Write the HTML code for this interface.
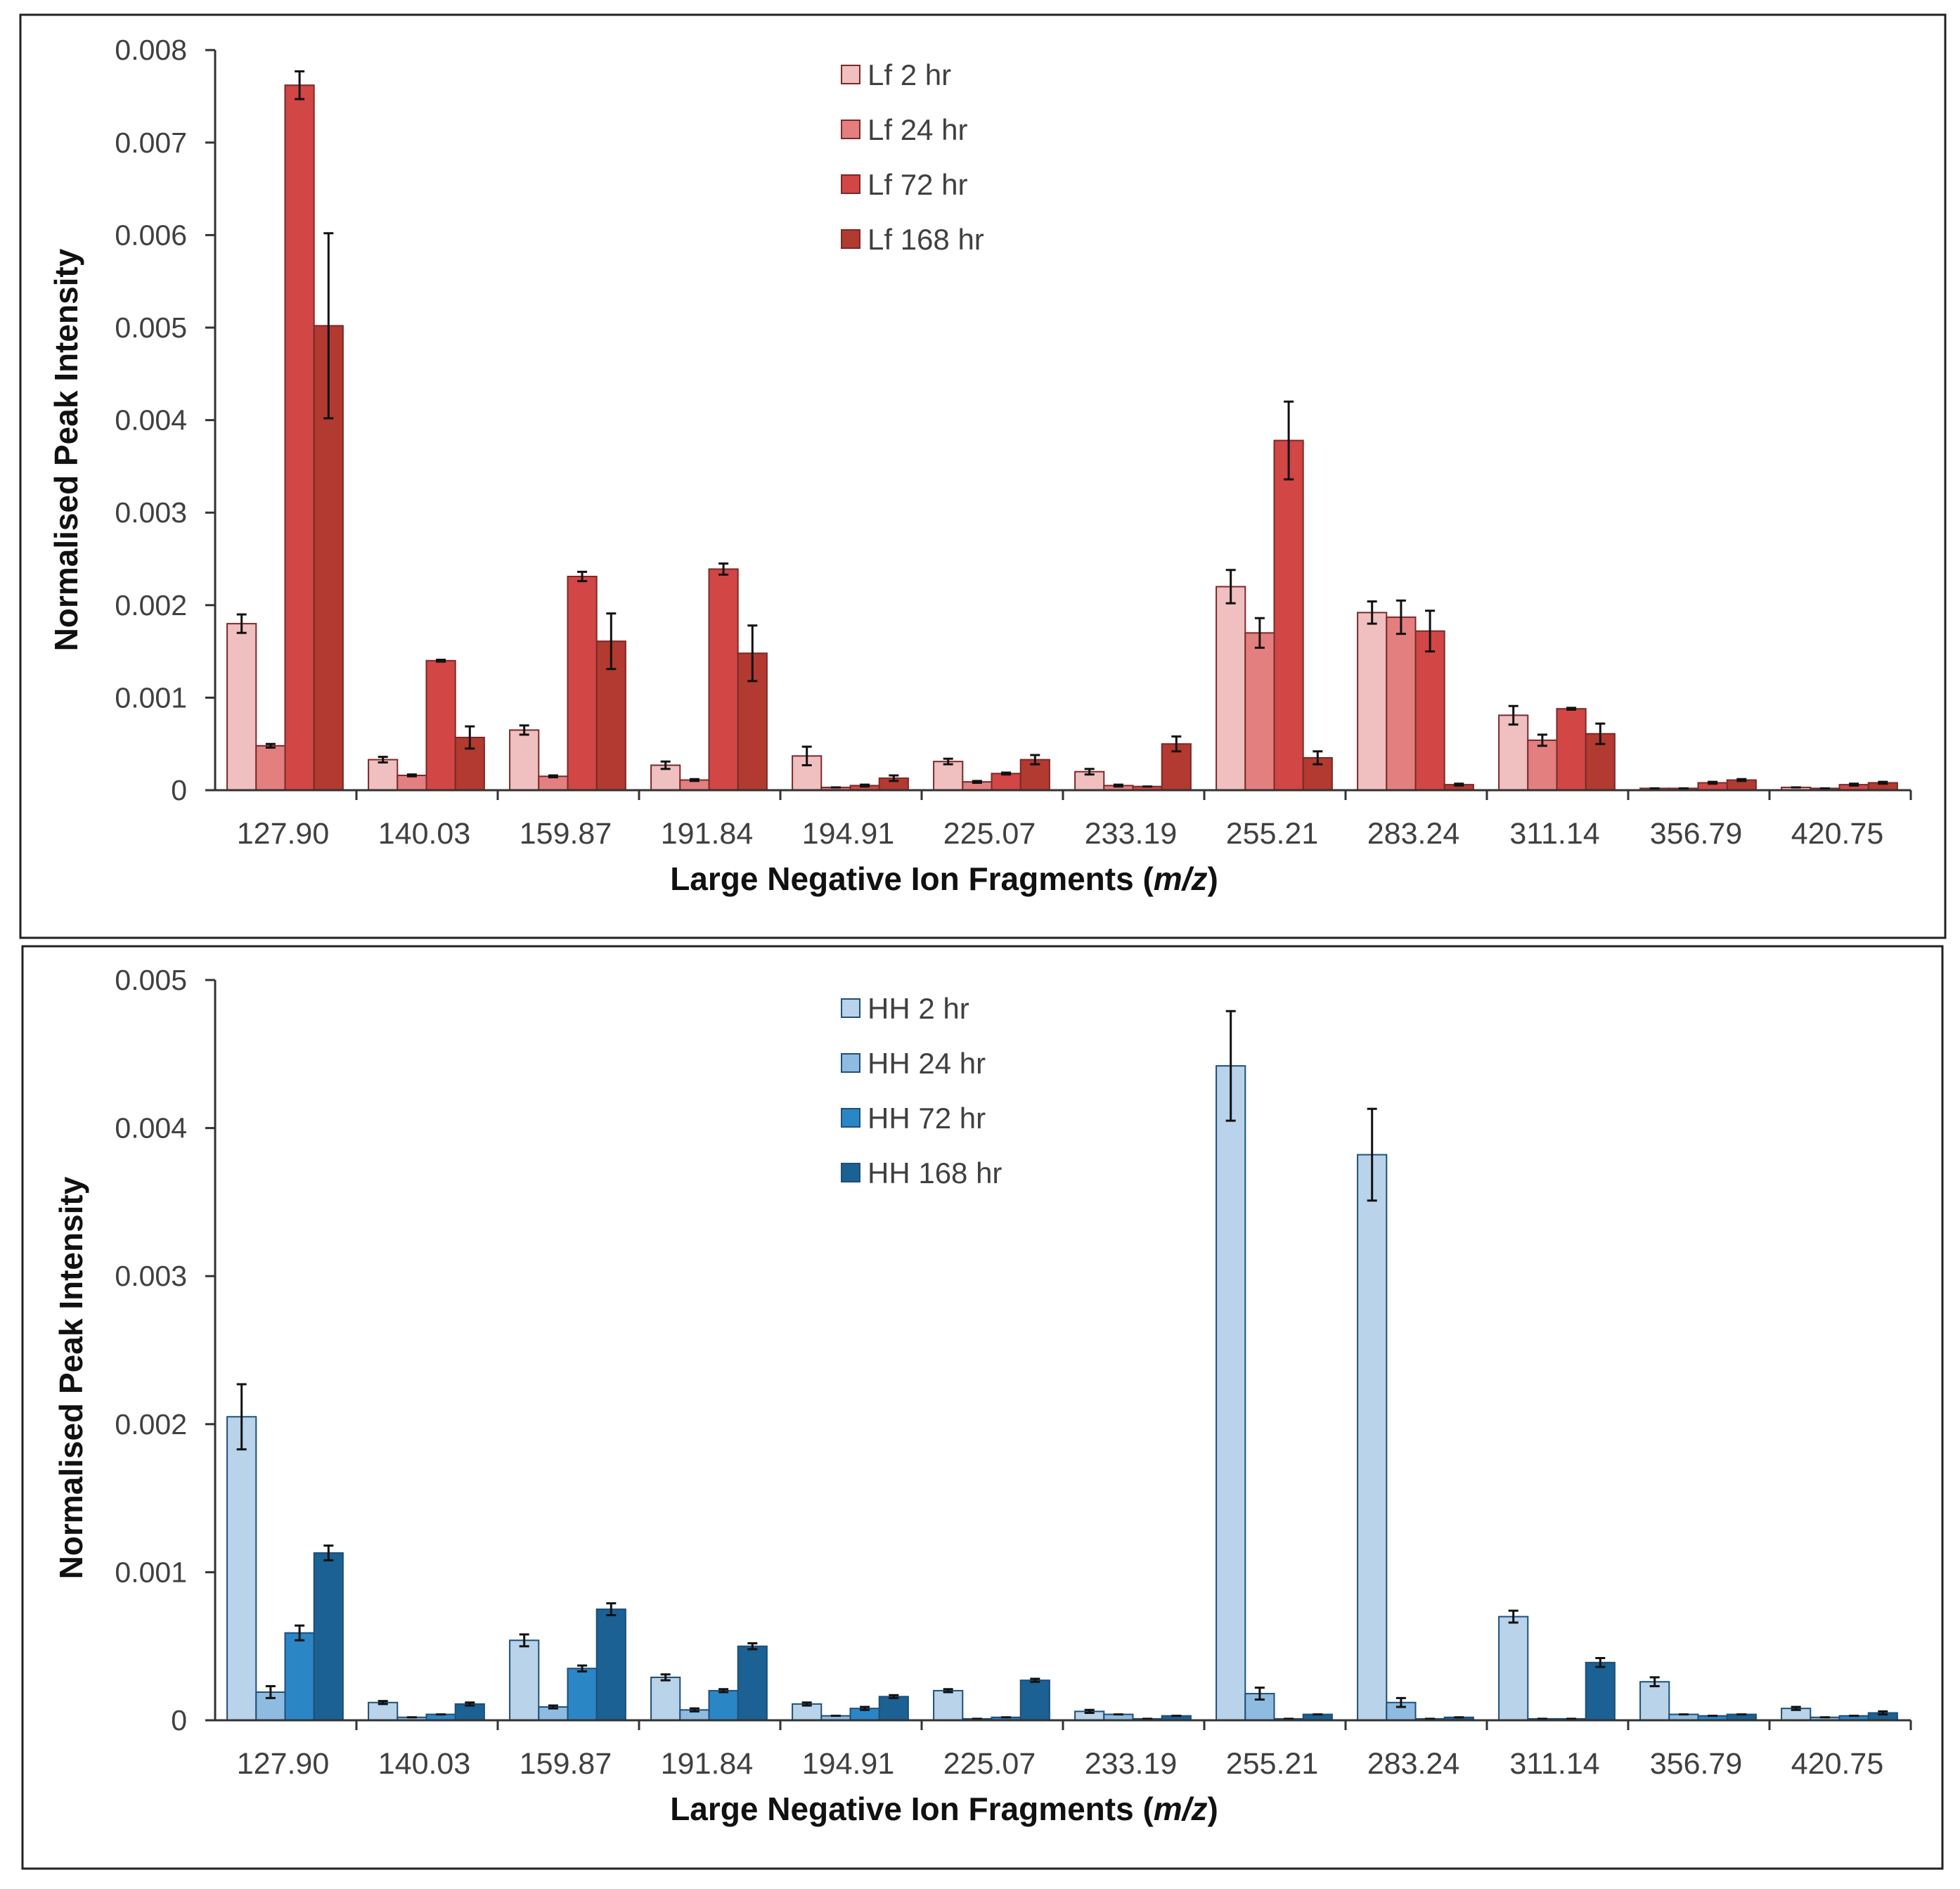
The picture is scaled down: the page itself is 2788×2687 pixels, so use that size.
<!DOCTYPE html>
<html><head><meta charset="utf-8"><style>
html,body{margin:0;padding:0;background:#fff;}
svg{display:block;font-family:"Liberation Sans",sans-serif;}
</style></head><body>
<svg id="root" width="2788" height="2687" viewBox="0 0 2788 2687" xmlns="http://www.w3.org/2000/svg"></svg>
<script>
const categories=["127.90","140.03","159.87","191.84","194.91","225.07","233.19","255.21","283.24","311.14","356.79","420.75"];
const lfNames=["Lf 2 hr","Lf 24 hr","Lf 72 hr","Lf 168 hr"];
const hhNames=["HH 2 hr","HH 24 hr","HH 72 hr","HH 168 hr"];
const lf2=[1.8,0.33,0.65,0.27,0.37,0.31,0.20,2.20,1.92,0.81,0.02,0.03];
const lf24=[0.48,0.16,0.15,0.11,0.03,0.09,0.05,1.70,1.87,0.54,0.02,0.02];
const lf72=[7.62,1.40,2.31,2.39,0.05,0.18,0.04,3.78,1.72,0.88,0.08,0.06];
const lf168=[5.02,0.57,1.61,1.48,0.13,0.33,0.50,0.35,0.06,0.61,0.11,0.08];
const lf2e=[0.1,0.03,0.05,0.04,0.1,0.03,0.03,0.18,0.12,0.1,0,0];
const lf24e=[0.02,0.01,0.01,0.01,0,0.01,0.01,0.16,0.18,0.06,0,0];
const lf72e=[0.15,0.01,0.05,0.06,0.01,0.01,0,0.42,0.22,0.01,0.01,0.01];
const lf168e=[1.0,0.12,0.3,0.3,0.03,0.05,0.08,0.07,0.01,0.11,0.01,0.01];
const hh2=[2.05,0.12,0.54,0.29,0.11,0.20,0.06,4.42,3.82,0.70,0.26,0.08];
const hh24=[0.19,0.02,0.09,0.07,0.03,0.01,0.04,0.18,0.12,0.01,0.04,0.02];
const hh72=[0.59,0.04,0.35,0.20,0.08,0.02,0.01,0.01,0.01,0.01,0.03,0.03];
const hh168=[1.13,0.11,0.75,0.50,0.16,0.27,0.03,0.04,0.02,0.39,0.04,0.05];
const hh2e=[0.22,0.01,0.04,0.02,0.01,0.01,0.01,0.37,0.31,0.04,0.03,0.01];
const hh24e=[0.04,0,0.01,0.01,0,0,0,0.04,0.03,0,0,0];
const hh72e=[0.05,0,0.02,0.01,0.01,0,0,0,0,0,0,0];
const hh168e=[0.05,0.01,0.04,0.02,0.01,0.01,0,0,0,0.03,0,0.01];
const lfTicks=["0","0.001","0.002","0.003","0.004","0.005","0.006","0.007","0.008"];
const hhTicks=["0","0.001","0.002","0.003","0.004","0.005"];

const NS="http://www.w3.org/2000/svg";
const root=document.getElementById('root');
function mk(tag,attrs,parent,text){const e=document.createElementNS(NS,tag);for(const k in attrs)e.setAttribute(k,attrs[k]);if(text!==undefined)e.textContent=text;(parent||root).appendChild(e);return e;}

function chart(o){
  const g=mk('g',{});
  
  
  const fr=mk('rect',{x:o.box[0],y:o.box[1],width:o.box[2],height:o.box[3],fill:'#fff',stroke:'#222','stroke-width':3},g);
  
  
  const x0=306,x1=2718,cw=(x1-x0)/categories.length;
  const y0=o.y0,per=o.per;
  const ys=v=>y0-v*per;
  o.ticks.forEach((t,i)=>{
    const y=ys(i);
    const l=mk('line',{x1:x0-14,x2:x0,y1:y,y2:y,stroke:'#333','stroke-width':3},g);
    
    
    const tx=mk('text',{x:x0-40,y:y+14,'text-anchor':'end','font-size':41,fill:'#404040'},g,t);
    
    
  });
  o.series.forEach((s,si)=>{
    s.forEach((v,ci)=>{
      const bx=x0+ci*cw+cw*0.085+si*cw*0.205, bw=cw*0.205;
      const r=mk('rect',{x:bx,y:ys(v),width:bw,height:v*per,fill:o.colors[si],stroke:o.stroke,'stroke-width':2},g);
      
      
      const e=o.errs[si][ci];
      const cx=bx+bw/2;
      const el=mk('path',{d:`M${cx},${ys(v+e)}V${ys(v-e)}M${cx-7},${ys(v+e)}H${cx+7}M${cx-7},${ys(v-e)}H${cx+7}`,stroke:'#111','stroke-width':3,fill:'none'},g);
      
      
    });
  });
  const ya=mk('line',{x1:x0,x2:x0,y1:ys(o.ticks.length-1),y2:y0,stroke:'#333','stroke-width':3},g);
  
  
  const xa=mk('line',{x1:x0,x2:x1,y1:y0,y2:y0,stroke:'#333','stroke-width':3},g);
  
  
  categories.forEach((c,ci)=>{
    const tk=mk('line',{x1:x0+(ci+1)*cw,x2:x0+(ci+1)*cw,y1:y0,y2:y0+14,stroke:'#333','stroke-width':3},g);
    
    
    const t=mk('text',{x:x0+(ci+0.5)*cw-4,y:y0+76,'text-anchor':'middle','font-size':43,fill:'#404040'},g,c);
    
    
  });
  const xt=mk('text',{x:1343,y:y0+142,'text-anchor':'middle','font-size':46,'font-weight':'bold',fill:'#111'},g);
  
  
  xt.innerHTML='Large Negative Ion Fragments (<tspan font-style="italic">m/z</tspan>)';
  const ymid=o.ymid;
  const yt=mk('text',{x:o.ytx,y:ymid,'text-anchor':'middle','font-size':46,'font-weight':'bold',fill:'#111',transform:`rotate(-90 ${o.ytx} ${ymid})`},g,'Normalised Peak Intensity');
  
  
  o.names.forEach((n,i)=>{
    const ly=o.legY+i*78;
    const lg=mk('g',{},g);
    
    
    mk('rect',{x:1197,y:ly-14,width:26,height:26,fill:o.colors[i],stroke:o.stroke,'stroke-width':2},lg);
    mk('text',{x:1234,y:ly+14,'font-size':42,fill:'#404040'},lg,n);
  });
}
chart({name:'lf-chart',box:[29,21,2738,1313],y0:1124,per:131.6,ticks:lfTicks,
  series:[lf2,lf24,lf72,lf168],errs:[lf2e,lf24e,lf72e,lf168e],names:lfNames,
  colors:['#f0bfbf','#e47f7f','#d24646','#b23a30'],stroke:'#7a2a2a',ytx:110,ymid:640,legY:107});
chart({name:'hh-chart',box:[32,1346,2731,1312],y0:2447,per:210.6,ticks:hhTicks,
  series:[hh2,hh24,hh72,hh168],errs:[hh2e,hh24e,hh72e,hh168e],names:hhNames,
  colors:['#b8d3ea','#8ebbe0','#2b86c6','#1b6193'],stroke:'#1f4f78',ytx:117,ymid:1960,legY:1435});
</script>
</body></html>
